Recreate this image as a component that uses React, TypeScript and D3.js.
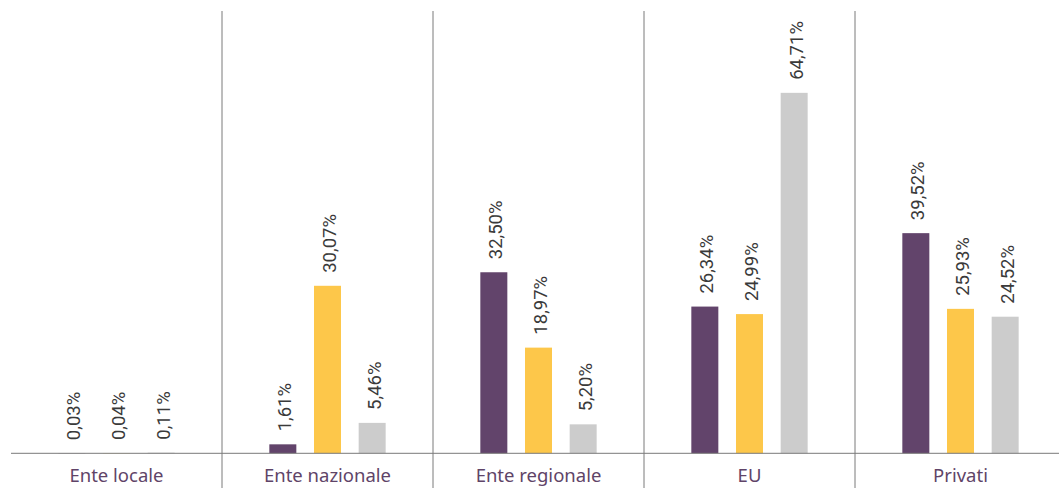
import React from "react";
import * as d3 from "d3";

const categories = ["Ente locale", "Ente nazionale", "Ente regionale", "EU", "Privati"];
const seriesKeys = ["s1", "s2", "s3"];
const series1 = [0.03, 1.61, 32.5, 26.34, 39.52];
const series2 = [0.04, 30.07, 18.97, 24.99, 25.93];
const series3 = [0.11, 5.46, 5.2, 64.71, 24.52];
const seriesColors = ["#62446b", "#fdc74a", "#cccccc"];

const W = 1059;
const H = 488;

export default function App() {
  const values = [series1, series2, series3];
  const x0 = d3.scaleBand<string>().domain(categories).range([11, 1066]).padding(0);
  const x1 = d3.scaleBand<string>().domain(seriesKeys).range([38.5, 172.5]).padding(0);
  const y = d3.scaleLinear().domain([0, 78]).range([453.3, 18.8]);
  const barW = 27;
  const fmt = (v: number) => v.toFixed(2).replace(".", ",") + "%";

  return (
    <svg width={W} height={H} style={{ position: "absolute", left: 0, top: 0, display: "block" }}>
      <rect x={0} y={0} width={W} height={H} fill="#ffffff" />
      {categories.slice(1).map((c) => (
        <line key={c} x1={x0(c)!} x2={x0(c)!} y1={11} y2={H} stroke="#7a7a7a" strokeWidth={1} />
      ))}
      {categories.map((c, ci) => (
        <g key={c} transform={`translate(${x0(c)},0)`}>
          {seriesKeys.map((k, si) => {
            const v = values[si][ci];
            const cx = x1(k)! + x1.bandwidth() / 2;
            const top = y(v);
            return (
              <g key={k}>
                <rect x={cx - barW / 2} y={top} width={barW} height={y(0) - top} fill={seriesColors[si]} />
                <text
                  transform={`translate(${cx + 8.5},${top - 13}) rotate(-90)`}
                  fontFamily="Roboto"
                  fontSize={18.5}
                  fill="#3a3a3a"
                >
                  {fmt(v)}
                </text>
              </g>
            );
          })}
          <text
            x={x0.bandwidth() / 2}
            y={481.5}
            textAnchor="middle"
            fontFamily="'Noto Sans', sans-serif"
            fontSize={18.5}
            fill="#5f4468"
          >
            {c}
          </text>
        </g>
      ))}
      <line x1={11} x2={W} y1={453.3} y2={453.3} stroke="#7a7a7a" strokeWidth={1} />
    </svg>
  );
}
